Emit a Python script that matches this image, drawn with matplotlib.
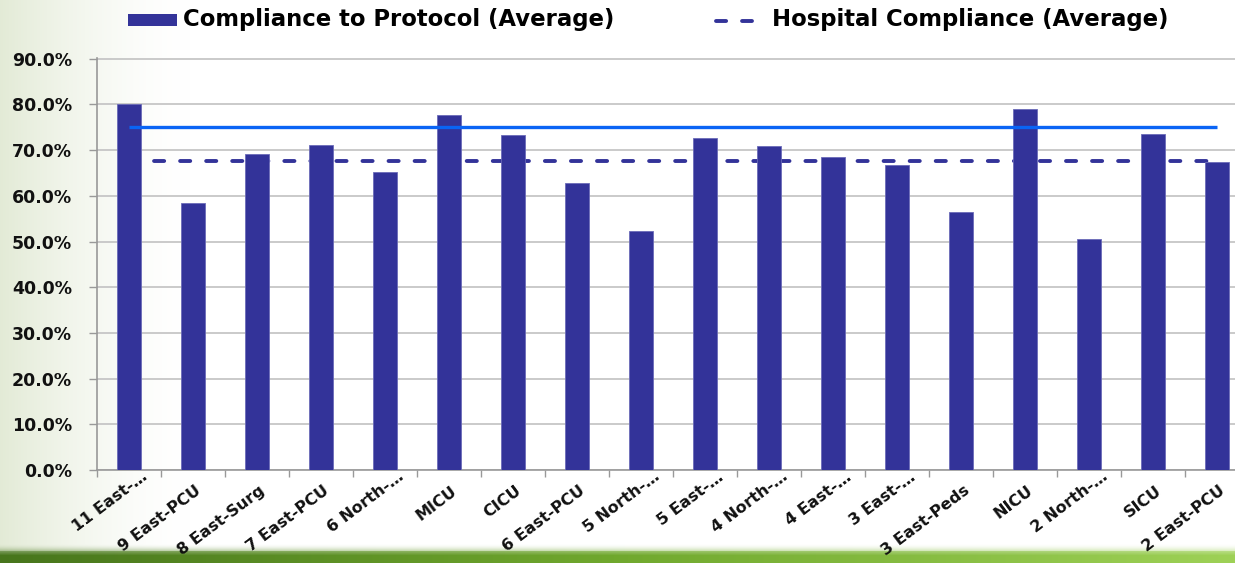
import numpy as np
import matplotlib
matplotlib.use("Agg")
import matplotlib.pyplot as plt
from matplotlib.patches import Rectangle
from matplotlib.lines import Line2D
from matplotlib.transforms import offset_copy

# ---------------- data ----------------
categories = ["11 East-…", "9 East-PCU", "8 East-Surg", "7 East-PCU", "6 North-…",
              "MICU", "CICU", "6 East-PCU", "5 North-…", "5 East-…", "4 North-…",
              "4 East-…", "3 East-…", "3 East-Peds", "NICU", "2 North-…", "SICU",
              "2 East-PCU"]
compliance = [80.0, 58.5, 69.2, 71.1, 65.2, 77.6, 73.3, 62.9, 52.3, 72.7, 70.9,
              68.6, 66.8, 56.5, 78.9, 50.6, 73.6, 67.3]
hospital_avg = 67.7
target = 75.0
y_ticks = [0, 10, 20, 30, 40, 50, 60, 70, 80, 90]
y_tick_labels = ["0.0%", "10.0%", "20.0%", "30.0%", "40.0%", "50.0%",
                 "60.0%", "70.0%", "80.0%", "90.0%"]
legend_labels = ["Compliance to Protocol (Average)", "Hospital Compliance (Average)"]

# ---------------- style ----------------
BAR = "#333399"
BLUE = "#0A64F5"
FONT = "DejaVu Sans"
W, H = 1235, 563
DPI = 100
DASH_LW = 2.8
DASHES = (2.6, 4.1)
ROT = 37

fig = plt.figure(figsize=(W / DPI, H / DPI), dpi=DPI)

# background
xs = np.arange(W)
bg = np.ones((H, W, 3))
tint = np.clip(1 - xs / 190.0, 0, 1) ** 1.6
left_c = np.array([0.89, 0.92, 0.84])
bg = bg - tint[None, :, None] * (1 - left_c)[None, None, :]
t = xs / (W - 1)
band = np.stack([
    np.interp(t, [0, 0.5, 1], [0.28, 0.44, 0.62]),
    np.interp(t, [0, 0.5, 1], [0.46, 0.66, 0.82]),
    np.interp(t, [0, 0.5, 1], [0.11, 0.18, 0.34]),
], axis=1)
for r in range(H):
    if r >= 551:
        a = 1.0
        lighten = 0.25 * max(0, 1 - (r - 551) / 4.0)
        col = band * (1 - lighten) + lighten
    elif r >= 543:
        a = ((r - 543) / 8.0) ** 2 * 0.45
        col = band
    else:
        continue
    bg[r] = bg[r] * (1 - a) + col * a
bgax = fig.add_axes([0, 0, 1, 1], zorder=-5)
bgax.imshow(bg, aspect="auto", extent=[0, W, H, 0], interpolation="bilinear")
bgax.set_xlim(0, W)
bgax.set_ylim(H, 0)
bgax.axis("off")

# main axes
left_px, right_px = 97, 1249
bot_px, top_px = 470, 58.3
ax = fig.add_axes([left_px / W, (H - bot_px) / H, (right_px - left_px) / W,
                   (bot_px - top_px) / H])
ax.set_facecolor("none")

x = np.arange(len(categories))
ax.bar(x, compliance, width=0.39, color=BAR, edgecolor="#6b6bb8", linewidth=0.6,
       zorder=3)
ax.plot([x[0] - 0.02, x[-1]], [hospital_avg, hospital_avg], color=BAR, lw=DASH_LW,
        dashes=DASHES, dash_capstyle="round", zorder=2)
ax.plot([x[0], x[-1]], [target, target], color=BLUE, lw=2.4, zorder=4,
        solid_capstyle="butt")

ax.set_xlim(-0.5, len(categories) - 0.5)
ax.set_ylim(0, 90.1)
ax.set_yticks(y_ticks)
ax.set_yticklabels(y_tick_labels, fontsize=12.5, fontweight="bold",
                   family=FONT, color="#111111")
ax.tick_params(axis="y", direction="out", length=6, width=1.0, color="#999999",
               pad=12)
ax.yaxis.grid(True, color="#c6c6c6", lw=1.3, zorder=0)
ax.set_axisbelow(True)

ax.set_xticks(np.arange(-0.5, len(categories), 1.0))
ax.set_xticklabels([])
ax.tick_params(axis="x", direction="out", length=5, width=1.0, color="#999999")

for s in ["top", "right"]:
    ax.spines[s].set_visible(False)
for s in ["left", "bottom"]:
    ax.spines[s].set_color("#999999")
    ax.spines[s].set_linewidth(1.2)

# category labels
for i, lab in enumerate(categories):
    if lab.endswith("…"):
        dx, dy = 12, 1
    else:
        dx, dy = 2, -13
    tr = offset_copy(ax.get_xaxis_transform(), fig=fig, x=dx, y=dy, units="dots")
    ax.text(i, 0, lab, transform=tr, rotation=ROT, rotation_mode="anchor",
            ha="right", va="top", fontsize=11.5, fontweight="bold", family=FONT,
            color="#111111", clip_on=False)

# legend (manual)
fig.patches.append(Rectangle((128 / W, (H - 25.5) / H), 49 / W, 11.5 / H,
                             transform=fig.transFigure, facecolor=BAR,
                             edgecolor="none"))
fig.text(183 / W, (H - 19.5) / H, legend_labels[0], fontsize=16.4,
         fontweight="bold", family=FONT, ha="left", va="center", color="#000000")
fig.lines.append(Line2D([716 / W, 752 / W], [(H - 20.5) / H, (H - 20.5) / H],
                        transform=fig.transFigure, color=BAR, lw=DASH_LW,
                        dashes=DASHES, dash_capstyle="round"))
fig.text(772 / W, (H - 19.5) / H, legend_labels[1], fontsize=16.4,
         fontweight="bold", family=FONT, ha="left", va="center", color="#000000")

fig.savefig("out.png", dpi=DPI)
